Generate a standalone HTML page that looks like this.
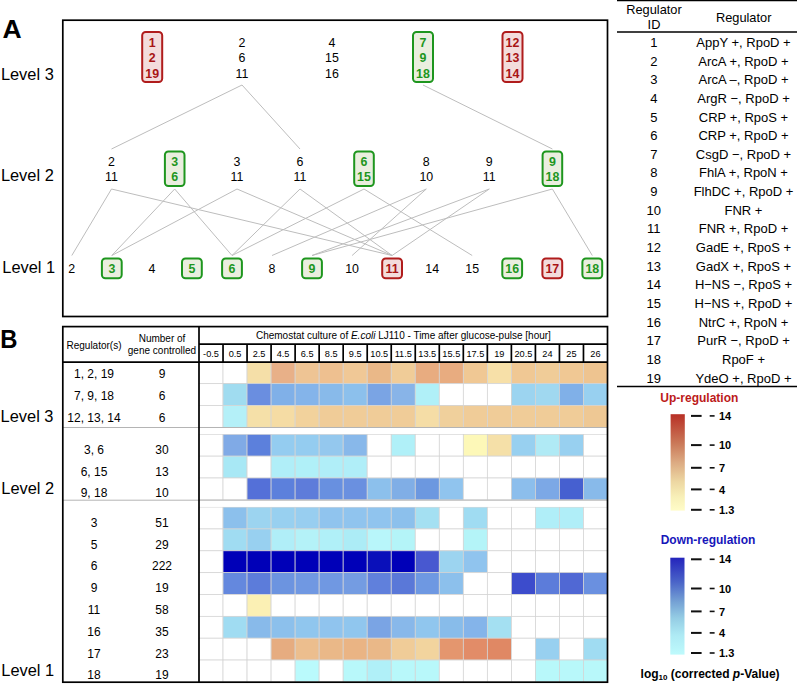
<!DOCTYPE html><html><head><meta charset="utf-8"><style>html,body{margin:0;padding:0;background:#fff;}svg{display:block;}text{font-family:"Liberation Sans",sans-serif;}</style></head><body><svg width="797" height="685" viewBox="0 0 797 685"><defs><linearGradient id="gu" x1="0" y1="0" x2="0" y2="1"><stop offset="0" stop-color="#B83026"/><stop offset="0.3" stop-color="#CA7858"/><stop offset="0.5" stop-color="#DCAA82"/><stop offset="0.7" stop-color="#EDD7A2"/><stop offset="0.86" stop-color="#F8F0B8"/><stop offset="1" stop-color="#FFFCC8"/></linearGradient><linearGradient id="gd" x1="0" y1="0" x2="0" y2="1"><stop offset="0" stop-color="#2424BC"/><stop offset="0.25" stop-color="#4A64C8"/><stop offset="0.45" stop-color="#74A0D4"/><stop offset="0.62" stop-color="#94CCE4"/><stop offset="0.8" stop-color="#AEEAF4"/><stop offset="1" stop-color="#BEFAFC"/></linearGradient></defs><text x="2.6" y="37.5" font-size="26.5" font-weight="bold">A</text><rect x="62.8" y="20.2" width="544.7" height="296.3" fill="none" stroke="#000" stroke-width="1.7"/><text x="0.9" y="80.3" font-size="16.4">Level 3</text><text x="0.9" y="181.1" font-size="16.4">Level 2</text><text x="2.3" y="272.8" font-size="16.4">Level 1</text><g stroke="#BDBDBD" stroke-width="1" fill="none"><line x1="242.0" y1="85" x2="111.5" y2="149"/><line x1="242.0" y1="85" x2="300.0" y2="149"/><line x1="423.0" y1="85" x2="552.4" y2="149"/><line x1="111.5" y1="189" x2="71.8" y2="255.5"/><line x1="111.5" y1="189" x2="392.1" y2="255.5"/><line x1="174.7" y1="189" x2="111.8" y2="255.5"/><line x1="174.7" y1="189" x2="232.0" y2="255.5"/><line x1="237.0" y1="189" x2="111.8" y2="255.5"/><line x1="237.0" y1="189" x2="392.1" y2="255.5"/><line x1="300.0" y1="189" x2="232.0" y2="255.5"/><line x1="300.0" y1="189" x2="392.1" y2="255.5"/><line x1="364.0" y1="189" x2="232.0" y2="255.5"/><line x1="364.0" y1="189" x2="472.2" y2="255.5"/><line x1="426.3" y1="189" x2="272.0" y2="255.5"/><line x1="426.3" y1="189" x2="352.1" y2="255.5"/><line x1="489.3" y1="189" x2="312.0" y2="255.5"/><line x1="489.3" y1="189" x2="392.1" y2="255.5"/><line x1="552.4" y1="189" x2="312.0" y2="255.5"/><line x1="552.4" y1="189" x2="592.3" y2="255.5"/></g><rect x="142.2" y="32.0" width="20.0" height="50.0" rx="3.5" fill="#F3DCDC" stroke="#B01C1C" stroke-width="2"/><text x="152.2" y="46.5" font-size="12.4" font-weight="bold" fill="#A81414" text-anchor="middle">1</text><text x="152.2" y="62.0" font-size="12.4" font-weight="bold" fill="#A81414" text-anchor="middle">2</text><text x="152.2" y="77.5" font-size="12.4" font-weight="bold" fill="#A81414" text-anchor="middle">19</text><text x="242" y="46.5" font-size="12.4" text-anchor="middle">2</text><text x="242" y="62.0" font-size="12.4" text-anchor="middle">6</text><text x="242" y="77.5" font-size="12.4" text-anchor="middle">11</text><text x="332" y="46.5" font-size="12.4" text-anchor="middle">4</text><text x="332" y="62.0" font-size="12.4" text-anchor="middle">15</text><text x="332" y="77.5" font-size="12.4" text-anchor="middle">16</text><rect x="413.0" y="32.0" width="20.0" height="50.0" rx="3.5" fill="#EAEEDF" stroke="#1E961E" stroke-width="2"/><text x="423" y="46.5" font-size="12.4" font-weight="bold" fill="#1E961E" text-anchor="middle">7</text><text x="423" y="62.0" font-size="12.4" font-weight="bold" fill="#1E961E" text-anchor="middle">9</text><text x="423" y="77.5" font-size="12.4" font-weight="bold" fill="#1E961E" text-anchor="middle">18</text><rect x="502.5" y="32.0" width="20.0" height="50.0" rx="3.5" fill="#F3DCDC" stroke="#B01C1C" stroke-width="2"/><text x="512.5" y="46.5" font-size="12.4" font-weight="bold" fill="#A81414" text-anchor="middle">12</text><text x="512.5" y="62.0" font-size="12.4" font-weight="bold" fill="#A81414" text-anchor="middle">13</text><text x="512.5" y="77.5" font-size="12.4" font-weight="bold" fill="#A81414" text-anchor="middle">14</text><text x="111.5" y="165.8" font-size="12.4" text-anchor="middle">2</text><text x="111.5" y="181.4" font-size="12.4" text-anchor="middle">11</text><rect x="164.9" y="151.4" width="19.6" height="34.6" rx="3.5" fill="#EAEEDF" stroke="#1E961E" stroke-width="2"/><text x="174.7" y="165.8" font-size="12.4" font-weight="bold" fill="#1E961E" text-anchor="middle">3</text><text x="174.7" y="181.4" font-size="12.4" font-weight="bold" fill="#1E961E" text-anchor="middle">6</text><text x="237" y="165.8" font-size="12.4" text-anchor="middle">3</text><text x="237" y="181.4" font-size="12.4" text-anchor="middle">11</text><text x="300" y="165.8" font-size="12.4" text-anchor="middle">6</text><text x="300" y="181.4" font-size="12.4" text-anchor="middle">11</text><rect x="354.2" y="151.4" width="19.6" height="34.6" rx="3.5" fill="#EAEEDF" stroke="#1E961E" stroke-width="2"/><text x="364" y="165.8" font-size="12.4" font-weight="bold" fill="#1E961E" text-anchor="middle">6</text><text x="364" y="181.4" font-size="12.4" font-weight="bold" fill="#1E961E" text-anchor="middle">15</text><text x="426.3" y="165.8" font-size="12.4" text-anchor="middle">8</text><text x="426.3" y="181.4" font-size="12.4" text-anchor="middle">10</text><text x="489.3" y="165.8" font-size="12.4" text-anchor="middle">9</text><text x="489.3" y="181.4" font-size="12.4" text-anchor="middle">11</text><rect x="542.6" y="151.4" width="19.6" height="34.6" rx="3.5" fill="#EAEEDF" stroke="#1E961E" stroke-width="2"/><text x="552.4" y="165.8" font-size="12.4" font-weight="bold" fill="#1E961E" text-anchor="middle">9</text><text x="552.4" y="181.4" font-size="12.4" font-weight="bold" fill="#1E961E" text-anchor="middle">18</text><text x="71.8" y="272.8" font-size="12.4" text-anchor="middle">2</text><rect x="101.9" y="258.5" width="19.8" height="19.8" rx="3.5" fill="#EAEEDF" stroke="#1E961E" stroke-width="2"/><text x="111.84" y="272.8" font-size="12.4" font-weight="bold" fill="#1E961E" text-anchor="middle">3</text><text x="151.88" y="272.8" font-size="12.4" text-anchor="middle">4</text><rect x="182.0" y="258.5" width="19.8" height="19.8" rx="3.5" fill="#EAEEDF" stroke="#1E961E" stroke-width="2"/><text x="191.92000000000002" y="272.8" font-size="12.4" font-weight="bold" fill="#1E961E" text-anchor="middle">5</text><rect x="222.1" y="258.5" width="19.8" height="19.8" rx="3.5" fill="#EAEEDF" stroke="#1E961E" stroke-width="2"/><text x="231.95999999999998" y="272.8" font-size="12.4" font-weight="bold" fill="#1E961E" text-anchor="middle">6</text><text x="272.0" y="272.8" font-size="12.4" text-anchor="middle">8</text><rect x="302.1" y="258.5" width="19.8" height="19.8" rx="3.5" fill="#EAEEDF" stroke="#1E961E" stroke-width="2"/><text x="312.04" y="272.8" font-size="12.4" font-weight="bold" fill="#1E961E" text-anchor="middle">9</text><text x="352.08" y="272.8" font-size="12.4" text-anchor="middle">10</text><rect x="382.2" y="258.5" width="19.8" height="19.8" rx="3.5" fill="#F3DCDC" stroke="#B01C1C" stroke-width="2"/><text x="392.12" y="272.8" font-size="12.4" font-weight="bold" fill="#A81414" text-anchor="middle">11</text><text x="432.16" y="272.8" font-size="12.4" text-anchor="middle">14</text><text x="472.2" y="272.8" font-size="12.4" text-anchor="middle">15</text><rect x="502.3" y="258.5" width="19.8" height="19.8" rx="3.5" fill="#EAEEDF" stroke="#1E961E" stroke-width="2"/><text x="512.24" y="272.8" font-size="12.4" font-weight="bold" fill="#1E961E" text-anchor="middle">16</text><rect x="542.4" y="258.5" width="19.8" height="19.8" rx="3.5" fill="#F3DCDC" stroke="#B01C1C" stroke-width="2"/><text x="552.28" y="272.8" font-size="12.4" font-weight="bold" fill="#A81414" text-anchor="middle">17</text><rect x="582.4" y="258.5" width="19.8" height="19.8" rx="3.5" fill="#EAEEDF" stroke="#1E961E" stroke-width="2"/><text x="592.3199999999999" y="272.8" font-size="12.4" font-weight="bold" fill="#1E961E" text-anchor="middle">18</text><text transform="translate(0.3,347.6) scale(0.9,1)" font-size="26.5" font-weight="bold">B</text><text x="0.6" y="422.2" font-size="16.4">Level 3</text><text x="1.3" y="494.2" font-size="16.4">Level 2</text><text x="1.3" y="675.6" font-size="16.4">Level 1</text><g stroke="#D4D4D4" stroke-width="0.75"><rect x="199.00" y="361.80" width="24.03" height="21.85" fill="#FFFFFF"/><rect x="223.03" y="361.80" width="24.03" height="21.85" fill="#FFFFFF"/><rect x="247.06" y="361.80" width="24.03" height="21.85" fill="#F5DFA8"/><rect x="271.09" y="361.80" width="24.03" height="21.85" fill="#E8B088"/><rect x="295.12" y="361.80" width="24.03" height="21.85" fill="#EEC494"/><rect x="319.15" y="361.80" width="24.03" height="21.85" fill="#EEC090"/><rect x="343.18" y="361.80" width="24.03" height="21.85" fill="#F0C896"/><rect x="367.21" y="361.80" width="24.03" height="21.85" fill="#EAB888"/><rect x="391.24" y="361.80" width="24.03" height="21.85" fill="#F0CC98"/><rect x="415.26" y="361.80" width="24.03" height="21.85" fill="#E8AC80"/><rect x="439.29" y="361.80" width="24.03" height="21.85" fill="#E8AC80"/><rect x="463.32" y="361.80" width="24.03" height="21.85" fill="#F0C894"/><rect x="487.35" y="361.80" width="24.03" height="21.85" fill="#F7E0A8"/><rect x="511.38" y="361.80" width="24.03" height="21.85" fill="#F0C894"/><rect x="535.41" y="361.80" width="24.03" height="21.85" fill="#F0CC98"/><rect x="559.44" y="361.80" width="24.03" height="21.85" fill="#F0C894"/><rect x="583.47" y="361.80" width="24.03" height="21.85" fill="#EEC490"/><rect x="199.00" y="383.65" width="24.03" height="21.85" fill="#FFFFFF"/><rect x="223.03" y="383.65" width="24.03" height="21.85" fill="#A0DCF0"/><rect x="247.06" y="383.65" width="24.03" height="21.85" fill="#6A8EE0"/><rect x="271.09" y="383.65" width="24.03" height="21.85" fill="#80B0E8"/><rect x="295.12" y="383.65" width="24.03" height="21.85" fill="#84B4EA"/><rect x="319.15" y="383.65" width="24.03" height="21.85" fill="#88BAEA"/><rect x="343.18" y="383.65" width="24.03" height="21.85" fill="#8CC0EC"/><rect x="367.21" y="383.65" width="24.03" height="21.85" fill="#7AA4E4"/><rect x="391.24" y="383.65" width="24.03" height="21.85" fill="#88B4E8"/><rect x="415.26" y="383.65" width="24.03" height="21.85" fill="#B0F0F8"/><rect x="439.29" y="383.65" width="24.03" height="21.85" fill="#FFFFFF"/><rect x="463.32" y="383.65" width="24.03" height="21.85" fill="#FFFFFF"/><rect x="487.35" y="383.65" width="24.03" height="21.85" fill="#FFFFFF"/><rect x="511.38" y="383.65" width="24.03" height="21.85" fill="#9CD4F0"/><rect x="535.41" y="383.65" width="24.03" height="21.85" fill="#A0D8F0"/><rect x="559.44" y="383.65" width="24.03" height="21.85" fill="#80B0E8"/><rect x="583.47" y="383.65" width="24.03" height="21.85" fill="#98D0F0"/><rect x="199.00" y="405.50" width="24.03" height="21.85" fill="#FFFFFF"/><rect x="223.03" y="405.50" width="24.03" height="21.85" fill="#B4F0F8"/><rect x="247.06" y="405.50" width="24.03" height="21.85" fill="#F5E0A8"/><rect x="271.09" y="405.50" width="24.03" height="21.85" fill="#F5DCA4"/><rect x="295.12" y="405.50" width="24.03" height="21.85" fill="#F2D29C"/><rect x="319.15" y="405.50" width="24.03" height="21.85" fill="#F0CC98"/><rect x="343.18" y="405.50" width="24.03" height="21.85" fill="#F0CC98"/><rect x="367.21" y="405.50" width="24.03" height="21.85" fill="#F0CC98"/><rect x="391.24" y="405.50" width="24.03" height="21.85" fill="#F0CC98"/><rect x="415.26" y="405.50" width="24.03" height="21.85" fill="#F5DDA6"/><rect x="439.29" y="405.50" width="24.03" height="21.85" fill="#F0D09C"/><rect x="463.32" y="405.50" width="24.03" height="21.85" fill="#F0CC98"/><rect x="487.35" y="405.50" width="24.03" height="21.85" fill="#F0CC98"/><rect x="511.38" y="405.50" width="24.03" height="21.85" fill="#F0CC98"/><rect x="535.41" y="405.50" width="24.03" height="21.85" fill="#F0CC98"/><rect x="559.44" y="405.50" width="24.03" height="21.85" fill="#F0CC98"/><rect x="583.47" y="405.50" width="24.03" height="21.85" fill="#EEC894"/><rect x="199.00" y="434.30" width="24.03" height="21.85" fill="#FFFFFF"/><rect x="223.03" y="434.30" width="24.03" height="21.85" fill="#80AAE6"/><rect x="247.06" y="434.30" width="24.03" height="21.85" fill="#5C80DC"/><rect x="271.09" y="434.30" width="24.03" height="21.85" fill="#94CCF0"/><rect x="295.12" y="434.30" width="24.03" height="21.85" fill="#94CCF0"/><rect x="319.15" y="434.30" width="24.03" height="21.85" fill="#94C8EE"/><rect x="343.18" y="434.30" width="24.03" height="21.85" fill="#88B8EA"/><rect x="367.21" y="434.30" width="24.03" height="21.85" fill="#FFFFFF"/><rect x="391.24" y="434.30" width="24.03" height="21.85" fill="#B0F0F8"/><rect x="415.26" y="434.30" width="24.03" height="21.85" fill="#FFFFFF"/><rect x="439.29" y="434.30" width="24.03" height="21.85" fill="#FFFFFF"/><rect x="463.32" y="434.30" width="24.03" height="21.85" fill="#FDF8B8"/><rect x="487.35" y="434.30" width="24.03" height="21.85" fill="#F5E0A8"/><rect x="511.38" y="434.30" width="24.03" height="21.85" fill="#98D0F0"/><rect x="535.41" y="434.30" width="24.03" height="21.85" fill="#B0EAF5"/><rect x="559.44" y="434.30" width="24.03" height="21.85" fill="#98D0F0"/><rect x="583.47" y="434.30" width="24.03" height="21.85" fill="#FFFFFF"/><rect x="199.00" y="456.15" width="24.03" height="21.85" fill="#FFFFFF"/><rect x="223.03" y="456.15" width="24.03" height="21.85" fill="#A8E8F5"/><rect x="247.06" y="456.15" width="24.03" height="21.85" fill="#FFFFFF"/><rect x="271.09" y="456.15" width="24.03" height="21.85" fill="#B0EEF8"/><rect x="295.12" y="456.15" width="24.03" height="21.85" fill="#B0F0F8"/><rect x="319.15" y="456.15" width="24.03" height="21.85" fill="#B0EEF8"/><rect x="343.18" y="456.15" width="24.03" height="21.85" fill="#B0EEF8"/><rect x="367.21" y="456.15" width="24.03" height="21.85" fill="#FFFFFF"/><rect x="391.24" y="456.15" width="24.03" height="21.85" fill="#FFFFFF"/><rect x="415.26" y="456.15" width="24.03" height="21.85" fill="#FFFFFF"/><rect x="439.29" y="456.15" width="24.03" height="21.85" fill="#FFFFFF"/><rect x="463.32" y="456.15" width="24.03" height="21.85" fill="#FFFFFF"/><rect x="487.35" y="456.15" width="24.03" height="21.85" fill="#FFFFFF"/><rect x="511.38" y="456.15" width="24.03" height="21.85" fill="#FFFFFF"/><rect x="535.41" y="456.15" width="24.03" height="21.85" fill="#FFFFFF"/><rect x="559.44" y="456.15" width="24.03" height="21.85" fill="#FFFFFF"/><rect x="583.47" y="456.15" width="24.03" height="21.85" fill="#FFFFFF"/><rect x="199.00" y="478.00" width="24.03" height="21.85" fill="#FFFFFF"/><rect x="223.03" y="478.00" width="24.03" height="21.85" fill="#FFFFFF"/><rect x="247.06" y="478.00" width="24.03" height="21.85" fill="#5470D8"/><rect x="271.09" y="478.00" width="24.03" height="21.85" fill="#5C80DC"/><rect x="295.12" y="478.00" width="24.03" height="21.85" fill="#5E7CDA"/><rect x="319.15" y="478.00" width="24.03" height="21.85" fill="#6890E0"/><rect x="343.18" y="478.00" width="24.03" height="21.85" fill="#6A90E0"/><rect x="367.21" y="478.00" width="24.03" height="21.85" fill="#8CC0EC"/><rect x="391.24" y="478.00" width="24.03" height="21.85" fill="#80AEE6"/><rect x="415.26" y="478.00" width="24.03" height="21.85" fill="#6C98E0"/><rect x="439.29" y="478.00" width="24.03" height="21.85" fill="#90C4EE"/><rect x="463.32" y="478.00" width="24.03" height="21.85" fill="#FFFFFF"/><rect x="487.35" y="478.00" width="24.03" height="21.85" fill="#FFFFFF"/><rect x="511.38" y="478.00" width="24.03" height="21.85" fill="#8CBEEC"/><rect x="535.41" y="478.00" width="24.03" height="21.85" fill="#7CA8E6"/><rect x="559.44" y="478.00" width="24.03" height="21.85" fill="#4660D0"/><rect x="583.47" y="478.00" width="24.03" height="21.85" fill="#88BAEA"/><rect x="199.00" y="507.10" width="24.03" height="21.85" fill="#FFFFFF"/><rect x="223.03" y="507.10" width="24.03" height="21.85" fill="#8CC0EC"/><rect x="247.06" y="507.10" width="24.03" height="21.85" fill="#9CD4F0"/><rect x="271.09" y="507.10" width="24.03" height="21.85" fill="#98D0F0"/><rect x="295.12" y="507.10" width="24.03" height="21.85" fill="#98CEF0"/><rect x="319.15" y="507.10" width="24.03" height="21.85" fill="#90C4EE"/><rect x="343.18" y="507.10" width="24.03" height="21.85" fill="#90C4EE"/><rect x="367.21" y="507.10" width="24.03" height="21.85" fill="#90C4EE"/><rect x="391.24" y="507.10" width="24.03" height="21.85" fill="#8CC0EC"/><rect x="415.26" y="507.10" width="24.03" height="21.85" fill="#A4E0F2"/><rect x="439.29" y="507.10" width="24.03" height="21.85" fill="#FFFFFF"/><rect x="463.32" y="507.10" width="24.03" height="21.85" fill="#A0DCF2"/><rect x="487.35" y="507.10" width="24.03" height="21.85" fill="#FFFFFF"/><rect x="511.38" y="507.10" width="24.03" height="21.85" fill="#FFFFFF"/><rect x="535.41" y="507.10" width="24.03" height="21.85" fill="#B0EEF8"/><rect x="559.44" y="507.10" width="24.03" height="21.85" fill="#B0EEF8"/><rect x="583.47" y="507.10" width="24.03" height="21.85" fill="#FFFFFF"/><rect x="199.00" y="528.95" width="24.03" height="21.85" fill="#FFFFFF"/><rect x="223.03" y="528.95" width="24.03" height="21.85" fill="#A0DCF2"/><rect x="247.06" y="528.95" width="24.03" height="21.85" fill="#98D0F0"/><rect x="271.09" y="528.95" width="24.03" height="21.85" fill="#B0EEF8"/><rect x="295.12" y="528.95" width="24.03" height="21.85" fill="#B4F2F8"/><rect x="319.15" y="528.95" width="24.03" height="21.85" fill="#B0F0F8"/><rect x="343.18" y="528.95" width="24.03" height="21.85" fill="#ACECF6"/><rect x="367.21" y="528.95" width="24.03" height="21.85" fill="#B8F6FA"/><rect x="391.24" y="528.95" width="24.03" height="21.85" fill="#B4F4F8"/><rect x="415.26" y="528.95" width="24.03" height="21.85" fill="#FFFFFF"/><rect x="439.29" y="528.95" width="24.03" height="21.85" fill="#FFFFFF"/><rect x="463.32" y="528.95" width="24.03" height="21.85" fill="#B4F4F8"/><rect x="487.35" y="528.95" width="24.03" height="21.85" fill="#FFFFFF"/><rect x="511.38" y="528.95" width="24.03" height="21.85" fill="#FFFFFF"/><rect x="535.41" y="528.95" width="24.03" height="21.85" fill="#FFFFFF"/><rect x="559.44" y="528.95" width="24.03" height="21.85" fill="#FFFFFF"/><rect x="583.47" y="528.95" width="24.03" height="21.85" fill="#FFFFFF"/><rect x="199.00" y="550.80" width="24.03" height="21.85" fill="#FFFFFF"/><rect x="223.03" y="550.80" width="24.03" height="21.85" fill="#0000B8"/><rect x="247.06" y="550.80" width="24.03" height="21.85" fill="#0000B8"/><rect x="271.09" y="550.80" width="24.03" height="21.85" fill="#0000B8"/><rect x="295.12" y="550.80" width="24.03" height="21.85" fill="#0000B8"/><rect x="319.15" y="550.80" width="24.03" height="21.85" fill="#0000B8"/><rect x="343.18" y="550.80" width="24.03" height="21.85" fill="#0000B8"/><rect x="367.21" y="550.80" width="24.03" height="21.85" fill="#0A10BA"/><rect x="391.24" y="550.80" width="24.03" height="21.85" fill="#0000B8"/><rect x="415.26" y="550.80" width="24.03" height="21.85" fill="#4858D0"/><rect x="439.29" y="550.80" width="24.03" height="21.85" fill="#9CD4F0"/><rect x="463.32" y="550.80" width="24.03" height="21.85" fill="#90C4EE"/><rect x="487.35" y="550.80" width="24.03" height="21.85" fill="#FFFFFF"/><rect x="511.38" y="550.80" width="24.03" height="21.85" fill="#FFFFFF"/><rect x="535.41" y="550.80" width="24.03" height="21.85" fill="#FFFFFF"/><rect x="559.44" y="550.80" width="24.03" height="21.85" fill="#FFFFFF"/><rect x="583.47" y="550.80" width="24.03" height="21.85" fill="#FFFFFF"/><rect x="199.00" y="572.65" width="24.03" height="21.85" fill="#FFFFFF"/><rect x="223.03" y="572.65" width="24.03" height="21.85" fill="#6488DE"/><rect x="247.06" y="572.65" width="24.03" height="21.85" fill="#5C7CDA"/><rect x="271.09" y="572.65" width="24.03" height="21.85" fill="#6C94E0"/><rect x="295.12" y="572.65" width="24.03" height="21.85" fill="#7098E2"/><rect x="319.15" y="572.65" width="24.03" height="21.85" fill="#7098E2"/><rect x="343.18" y="572.65" width="24.03" height="21.85" fill="#749CE2"/><rect x="367.21" y="572.65" width="24.03" height="21.85" fill="#6080DC"/><rect x="391.24" y="572.65" width="24.03" height="21.85" fill="#5A78D8"/><rect x="415.26" y="572.65" width="24.03" height="21.85" fill="#6E98E2"/><rect x="439.29" y="572.65" width="24.03" height="21.85" fill="#8CC0EC"/><rect x="463.32" y="572.65" width="24.03" height="21.85" fill="#FFFFFF"/><rect x="487.35" y="572.65" width="24.03" height="21.85" fill="#FFFFFF"/><rect x="511.38" y="572.65" width="24.03" height="21.85" fill="#3C4CCC"/><rect x="535.41" y="572.65" width="24.03" height="21.85" fill="#5C7CDA"/><rect x="559.44" y="572.65" width="24.03" height="21.85" fill="#5068D4"/><rect x="583.47" y="572.65" width="24.03" height="21.85" fill="#6A90E0"/><rect x="199.00" y="594.50" width="24.03" height="21.85" fill="#FFFFFF"/><rect x="223.03" y="594.50" width="24.03" height="21.85" fill="#FFFFFF"/><rect x="247.06" y="594.50" width="24.03" height="21.85" fill="#FBF0B4"/><rect x="271.09" y="594.50" width="24.03" height="21.85" fill="#FFFFFF"/><rect x="295.12" y="594.50" width="24.03" height="21.85" fill="#FFFFFF"/><rect x="319.15" y="594.50" width="24.03" height="21.85" fill="#FFFFFF"/><rect x="343.18" y="594.50" width="24.03" height="21.85" fill="#FFFFFF"/><rect x="367.21" y="594.50" width="24.03" height="21.85" fill="#FFFFFF"/><rect x="391.24" y="594.50" width="24.03" height="21.85" fill="#FFFFFF"/><rect x="415.26" y="594.50" width="24.03" height="21.85" fill="#FFFFFF"/><rect x="439.29" y="594.50" width="24.03" height="21.85" fill="#FFFFFF"/><rect x="463.32" y="594.50" width="24.03" height="21.85" fill="#FFFFFF"/><rect x="487.35" y="594.50" width="24.03" height="21.85" fill="#FFFFFF"/><rect x="511.38" y="594.50" width="24.03" height="21.85" fill="#FFFFFF"/><rect x="535.41" y="594.50" width="24.03" height="21.85" fill="#FFFFFF"/><rect x="559.44" y="594.50" width="24.03" height="21.85" fill="#FFFFFF"/><rect x="583.47" y="594.50" width="24.03" height="21.85" fill="#FFFFFF"/><rect x="199.00" y="616.35" width="24.03" height="21.85" fill="#FFFFFF"/><rect x="223.03" y="616.35" width="24.03" height="21.85" fill="#A0DCF2"/><rect x="247.06" y="616.35" width="24.03" height="21.85" fill="#88BAEA"/><rect x="271.09" y="616.35" width="24.03" height="21.85" fill="#8CC0EC"/><rect x="295.12" y="616.35" width="24.03" height="21.85" fill="#90C6EE"/><rect x="319.15" y="616.35" width="24.03" height="21.85" fill="#90C4EE"/><rect x="343.18" y="616.35" width="24.03" height="21.85" fill="#90C6EE"/><rect x="367.21" y="616.35" width="24.03" height="21.85" fill="#7AA4E4"/><rect x="391.24" y="616.35" width="24.03" height="21.85" fill="#88B8EA"/><rect x="415.26" y="616.35" width="24.03" height="21.85" fill="#90C6EE"/><rect x="439.29" y="616.35" width="24.03" height="21.85" fill="#88BCEA"/><rect x="463.32" y="616.35" width="24.03" height="21.85" fill="#84B4EA"/><rect x="487.35" y="616.35" width="24.03" height="21.85" fill="#A4E0F2"/><rect x="511.38" y="616.35" width="24.03" height="21.85" fill="#FFFFFF"/><rect x="535.41" y="616.35" width="24.03" height="21.85" fill="#FFFFFF"/><rect x="559.44" y="616.35" width="24.03" height="21.85" fill="#FFFFFF"/><rect x="583.47" y="616.35" width="24.03" height="21.85" fill="#FFFFFF"/><rect x="199.00" y="638.20" width="24.03" height="21.85" fill="#FFFFFF"/><rect x="223.03" y="638.20" width="24.03" height="21.85" fill="#FFFFFF"/><rect x="247.06" y="638.20" width="24.03" height="21.85" fill="#FFFFFF"/><rect x="271.09" y="638.20" width="24.03" height="21.85" fill="#E6AC80"/><rect x="295.12" y="638.20" width="24.03" height="21.85" fill="#ECBE8E"/><rect x="319.15" y="638.20" width="24.03" height="21.85" fill="#EAB888"/><rect x="343.18" y="638.20" width="24.03" height="21.85" fill="#EAB484"/><rect x="367.21" y="638.20" width="24.03" height="21.85" fill="#EAB888"/><rect x="391.24" y="638.20" width="24.03" height="21.85" fill="#F0CC98"/><rect x="415.26" y="638.20" width="24.03" height="21.85" fill="#F2D49E"/><rect x="439.29" y="638.20" width="24.03" height="21.85" fill="#E4966E"/><rect x="463.32" y="638.20" width="24.03" height="21.85" fill="#E28C68"/><rect x="487.35" y="638.20" width="24.03" height="21.85" fill="#E08864"/><rect x="511.38" y="638.20" width="24.03" height="21.85" fill="#FFFFFF"/><rect x="535.41" y="638.20" width="24.03" height="21.85" fill="#98D0F0"/><rect x="559.44" y="638.20" width="24.03" height="21.85" fill="#FFFFFF"/><rect x="583.47" y="638.20" width="24.03" height="21.85" fill="#A0DCF2"/><rect x="199.00" y="660.05" width="24.03" height="21.85" fill="#FFFFFF"/><rect x="223.03" y="660.05" width="24.03" height="21.85" fill="#FFFFFF"/><rect x="247.06" y="660.05" width="24.03" height="21.85" fill="#FFFFFF"/><rect x="271.09" y="660.05" width="24.03" height="21.85" fill="#FFFFFF"/><rect x="295.12" y="660.05" width="24.03" height="21.85" fill="#BAFAFC"/><rect x="319.15" y="660.05" width="24.03" height="21.85" fill="#FFFFFF"/><rect x="343.18" y="660.05" width="24.03" height="21.85" fill="#B8F8FA"/><rect x="367.21" y="660.05" width="24.03" height="21.85" fill="#B0F0F8"/><rect x="391.24" y="660.05" width="24.03" height="21.85" fill="#B8F8FA"/><rect x="415.26" y="660.05" width="24.03" height="21.85" fill="#B8F8FA"/><rect x="439.29" y="660.05" width="24.03" height="21.85" fill="#FFFFFF"/><rect x="463.32" y="660.05" width="24.03" height="21.85" fill="#FFFFFF"/><rect x="487.35" y="660.05" width="24.03" height="21.85" fill="#FFFFFF"/><rect x="511.38" y="660.05" width="24.03" height="21.85" fill="#FFFFFF"/><rect x="535.41" y="660.05" width="24.03" height="21.85" fill="#B8F8FA"/><rect x="559.44" y="660.05" width="24.03" height="21.85" fill="#B8F8FA"/><rect x="583.47" y="660.05" width="24.03" height="21.85" fill="#B8F8FA"/></g><rect x="199.5" y="427.6" width="408" height="6.4" fill="#fff"/><rect x="199.5" y="500.2" width="408" height="6.6" fill="#fff"/><line x1="63" y1="427.5" x2="607.5" y2="427.5" stroke="#B4B4B4" stroke-width="1"/><line x1="63" y1="500.2" x2="607.5" y2="500.2" stroke="#B4B4B4" stroke-width="1"/><g stroke="#000" stroke-width="1.7" fill="none"><rect x="62.8" y="326.6" width="544.7" height="355.6"/><line x1="199" y1="326.4" x2="199" y2="682.2"/><line x1="199" y1="344.1" x2="607.5" y2="344.1"/><line x1="62.8" y1="362.2" x2="607.5" y2="362.2"/><line x1="223.03" y1="344.1" x2="223.03" y2="362.2"/><line x1="247.06" y1="344.1" x2="247.06" y2="362.2"/><line x1="271.09" y1="344.1" x2="271.09" y2="362.2"/><line x1="295.12" y1="344.1" x2="295.12" y2="362.2"/><line x1="319.15" y1="344.1" x2="319.15" y2="362.2"/><line x1="343.18" y1="344.1" x2="343.18" y2="362.2"/><line x1="367.21" y1="344.1" x2="367.21" y2="362.2"/><line x1="391.24" y1="344.1" x2="391.24" y2="362.2"/><line x1="415.26" y1="344.1" x2="415.26" y2="362.2"/><line x1="439.29" y1="344.1" x2="439.29" y2="362.2"/><line x1="463.32" y1="344.1" x2="463.32" y2="362.2"/><line x1="487.35" y1="344.1" x2="487.35" y2="362.2"/><line x1="511.38" y1="344.1" x2="511.38" y2="362.2"/><line x1="535.41" y1="344.1" x2="535.41" y2="362.2"/><line x1="559.44" y1="344.1" x2="559.44" y2="362.2"/><line x1="583.47" y1="344.1" x2="583.47" y2="362.2"/></g><text x="403.4" y="339.2" font-size="10" text-anchor="middle">Chemostat culture of <tspan font-style="italic">E.coli</tspan> LJ110 - Time after glucose-pulse [hour]</text><text x="211.01" y="357.2" font-size="9.2" text-anchor="middle">-0.5</text><text x="235.04" y="357.2" font-size="9.2" text-anchor="middle">0.5</text><text x="259.07" y="357.2" font-size="9.2" text-anchor="middle">2.5</text><text x="283.10" y="357.2" font-size="9.2" text-anchor="middle">4.5</text><text x="307.13" y="357.2" font-size="9.2" text-anchor="middle">6.5</text><text x="331.16" y="357.2" font-size="9.2" text-anchor="middle">8.5</text><text x="355.19" y="357.2" font-size="9.2" text-anchor="middle">9.5</text><text x="379.22" y="357.2" font-size="9.2" text-anchor="middle">10.5</text><text x="403.25" y="357.2" font-size="9.2" text-anchor="middle">11.5</text><text x="427.28" y="357.2" font-size="9.2" text-anchor="middle">13.5</text><text x="451.31" y="357.2" font-size="9.2" text-anchor="middle">15.5</text><text x="475.34" y="357.2" font-size="9.2" text-anchor="middle">17.5</text><text x="499.37" y="357.2" font-size="9.2" text-anchor="middle">19</text><text x="523.40" y="357.2" font-size="9.2" text-anchor="middle">20.5</text><text x="547.43" y="357.2" font-size="9.2" text-anchor="middle">24</text><text x="571.46" y="357.2" font-size="9.2" text-anchor="middle">25</text><text x="595.49" y="357.2" font-size="9.2" text-anchor="middle">26</text><text x="94" y="349" font-size="10" text-anchor="middle">Regulator(s)</text><text x="162" y="341.8" font-size="10" text-anchor="middle">Number of</text><text x="162" y="353.8" font-size="10" text-anchor="middle">gene controlled</text><text x="94" y="378.2" font-size="12" text-anchor="middle">1, 2, 19</text><text x="162" y="378.2" font-size="12" text-anchor="middle">9</text><text x="94" y="399.8" font-size="12" text-anchor="middle">7, 9, 18</text><text x="162" y="399.8" font-size="12" text-anchor="middle">6</text><text x="94" y="421.5" font-size="12" text-anchor="middle">12, 13, 14</text><text x="162" y="421.5" font-size="12" text-anchor="middle">6</text><text x="94" y="454" font-size="12" text-anchor="middle">3, 6</text><text x="162" y="454" font-size="12" text-anchor="middle">30</text><text x="94" y="475.7" font-size="12" text-anchor="middle">6, 15</text><text x="162" y="475.7" font-size="12" text-anchor="middle">13</text><text x="94" y="496.9" font-size="12" text-anchor="middle">9, 18</text><text x="162" y="496.9" font-size="12" text-anchor="middle">10</text><text x="94" y="526.5" font-size="12" text-anchor="middle">3</text><text x="162" y="526.5" font-size="12" text-anchor="middle">51</text><text x="94" y="548.5" font-size="12" text-anchor="middle">5</text><text x="162" y="548.5" font-size="12" text-anchor="middle">29</text><text x="94" y="570.3" font-size="12" text-anchor="middle">6</text><text x="162" y="570.3" font-size="12" text-anchor="middle">222</text><text x="94" y="592" font-size="12" text-anchor="middle">9</text><text x="162" y="592" font-size="12" text-anchor="middle">19</text><text x="94" y="613.7" font-size="12" text-anchor="middle">11</text><text x="162" y="613.7" font-size="12" text-anchor="middle">58</text><text x="94" y="635.6" font-size="12" text-anchor="middle">16</text><text x="162" y="635.6" font-size="12" text-anchor="middle">35</text><text x="94" y="657.5" font-size="12" text-anchor="middle">17</text><text x="162" y="657.5" font-size="12" text-anchor="middle">23</text><text x="94" y="679.2" font-size="12" text-anchor="middle">18</text><text x="162" y="679.2" font-size="12" text-anchor="middle">19</text><g stroke="#000" stroke-width="1.5"><line x1="617" y1="0.6" x2="797" y2="0.6"/><line x1="617" y1="31.9" x2="797" y2="31.9"/><line x1="617" y1="386.4" x2="797" y2="386.4"/></g><text x="654" y="14.0" font-size="12.8" text-anchor="middle">Regulator</text><text x="654" y="29.0" font-size="12.8" text-anchor="middle">ID</text><text x="743.7" y="21.7" font-size="12.8" text-anchor="middle">Regulator</text><text x="653.8" y="46.9" font-size="13" text-anchor="middle">1</text><text x="743.5" y="46.9" font-size="13" text-anchor="middle">AppY +, RpoD +</text><text x="653.8" y="65.5" font-size="13" text-anchor="middle">2</text><text x="743.5" y="65.5" font-size="13" text-anchor="middle">ArcA +, RpoD +</text><text x="653.8" y="84.2" font-size="13" text-anchor="middle">3</text><text x="743.5" y="84.2" font-size="13" text-anchor="middle">ArcA –, RpoD +</text><text x="653.8" y="102.8" font-size="13" text-anchor="middle">4</text><text x="743.5" y="102.8" font-size="13" text-anchor="middle">ArgR −, RpoD +</text><text x="653.8" y="121.5" font-size="13" text-anchor="middle">5</text><text x="743.5" y="121.5" font-size="13" text-anchor="middle">CRP +, RpoS +</text><text x="653.8" y="140.1" font-size="13" text-anchor="middle">6</text><text x="743.5" y="140.1" font-size="13" text-anchor="middle">CRP +, RpoD +</text><text x="653.8" y="158.8" font-size="13" text-anchor="middle">7</text><text x="743.5" y="158.8" font-size="13" text-anchor="middle">CsgD −, RpoD +</text><text x="653.8" y="177.4" font-size="13" text-anchor="middle">8</text><text x="743.5" y="177.4" font-size="13" text-anchor="middle">FhlA +, RpoN +</text><text x="653.8" y="196.1" font-size="13" text-anchor="middle">9</text><text x="743.5" y="196.1" font-size="13" text-anchor="middle">FlhDC +, RpoD +</text><text x="653.8" y="214.7" font-size="13" text-anchor="middle">10</text><text x="743.5" y="214.7" font-size="13" text-anchor="middle">FNR +</text><text x="653.8" y="233.3" font-size="13" text-anchor="middle">11</text><text x="743.5" y="233.3" font-size="13" text-anchor="middle">FNR +, RpoD +</text><text x="653.8" y="252.0" font-size="13" text-anchor="middle">12</text><text x="743.5" y="252.0" font-size="13" text-anchor="middle">GadE +, RpoS +</text><text x="653.8" y="270.6" font-size="13" text-anchor="middle">13</text><text x="743.5" y="270.6" font-size="13" text-anchor="middle">GadX +, RpoS +</text><text x="653.8" y="289.3" font-size="13" text-anchor="middle">14</text><text x="743.5" y="289.3" font-size="13" text-anchor="middle">H−NS −, RpoS +</text><text x="653.8" y="307.9" font-size="13" text-anchor="middle">15</text><text x="743.5" y="307.9" font-size="13" text-anchor="middle">H−NS +, RpoD +</text><text x="653.8" y="326.6" font-size="13" text-anchor="middle">16</text><text x="743.5" y="326.6" font-size="13" text-anchor="middle">NtrC +, RpoN +</text><text x="653.8" y="345.2" font-size="13" text-anchor="middle">17</text><text x="743.5" y="345.2" font-size="13" text-anchor="middle">PurR −, RpoD +</text><text x="653.8" y="363.8" font-size="13" text-anchor="middle">18</text><text x="743.5" y="363.8" font-size="13" text-anchor="middle">RpoF +</text><text x="653.8" y="382.5" font-size="13" text-anchor="middle">19</text><text x="743.5" y="382.5" font-size="13" text-anchor="middle">YdeO +, RpoD +</text><text x="699.3" y="401.8" font-size="12" font-weight="bold" fill="#BC1A1A" text-anchor="middle">Up-regulation</text><rect x="670.6" y="414.2" width="14.2" height="96.4" fill="url(#gu)"/><text x="708" y="544.3" font-size="12" font-weight="bold" fill="#1616BA" text-anchor="middle">Down-regulation</text><rect x="670.3" y="557.7" width="14.2" height="96.9" fill="url(#gd)"/><rect x="691" y="414.9" width="10.6" height="2" fill="#111"/><rect x="709.7" y="415.1" width="4.9" height="1.6" fill="#111"/><text x="719" y="420.0" font-size="11" font-weight="bold">14</text><rect x="691" y="444.1" width="10.6" height="2" fill="#111"/><rect x="709.7" y="444.3" width="4.9" height="1.6" fill="#111"/><text x="719" y="449.2" font-size="11" font-weight="bold">10</text><rect x="691" y="466.8" width="10.6" height="2" fill="#111"/><rect x="709.7" y="467.0" width="4.9" height="1.6" fill="#111"/><text x="719" y="471.9" font-size="11" font-weight="bold">7</text><rect x="691" y="488.4" width="10.6" height="2" fill="#111"/><rect x="709.7" y="488.6" width="4.9" height="1.6" fill="#111"/><text x="719" y="493.5" font-size="11" font-weight="bold">4</text><rect x="691" y="508.8" width="10.6" height="2" fill="#111"/><rect x="709.7" y="509.0" width="4.9" height="1.6" fill="#111"/><text x="719" y="513.9" font-size="11" font-weight="bold">1.3</text><rect x="691" y="558.3" width="10.6" height="2" fill="#111"/><rect x="709.7" y="558.5" width="4.9" height="1.6" fill="#111"/><text x="719" y="563.4" font-size="11" font-weight="bold">14</text><rect x="691" y="587.5" width="10.6" height="2" fill="#111"/><rect x="709.7" y="587.7" width="4.9" height="1.6" fill="#111"/><text x="719" y="592.6" font-size="11" font-weight="bold">10</text><rect x="691" y="610.4" width="10.6" height="2" fill="#111"/><rect x="709.7" y="610.6" width="4.9" height="1.6" fill="#111"/><text x="719" y="615.5" font-size="11" font-weight="bold">7</text><rect x="691" y="631.9" width="10.6" height="2" fill="#111"/><rect x="709.7" y="632.1" width="4.9" height="1.6" fill="#111"/><text x="719" y="637.0" font-size="11" font-weight="bold">4</text><rect x="691" y="652.0" width="10.6" height="2" fill="#111"/><rect x="709.7" y="652.2" width="4.9" height="1.6" fill="#111"/><text x="719" y="657.1" font-size="11" font-weight="bold">1.3</text><text x="640.6" y="677.5" font-size="12" font-weight="bold">log<tspan font-size="8" dy="2.8">10</tspan><tspan dy="-2.8"> (corrected </tspan><tspan font-style="italic">p</tspan>-Value)</text></svg></body></html>
